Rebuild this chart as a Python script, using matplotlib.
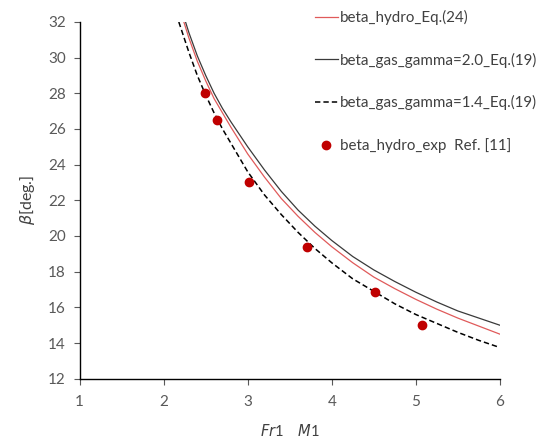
import matplotlib
matplotlib.use("Agg")
import matplotlib.pyplot as plt

plt.rcParams['font.family'] = ['Lato', 'DejaVu Sans']
plt.rcParams['mathtext.fontset'] = 'dejavusans'

# beta_hydro Eq.(24)
m_hydro = [2.24, 2.3, 2.4, 2.5, 2.6, 2.7, 2.8, 3.0, 3.2, 3.4, 3.6, 3.8, 4.0,
           4.25, 4.5, 4.75, 5.0, 5.25, 5.5, 5.75, 6.0]
beta_hydro = [32.0, 31.1, 29.8, 28.7, 27.7, 26.9, 26.1, 24.6, 23.3, 22.1, 21.1,
              20.2, 19.4, 18.5, 17.7, 17.05, 16.45, 15.9, 15.4, 14.95, 14.5]

# beta_gas gamma=2.0
m_g20 = [2.26, 2.3, 2.4, 2.5, 2.6, 2.7, 2.8, 3.0, 3.2, 3.4, 3.6, 3.8, 4.0,
         4.25, 4.5, 4.75, 5.0, 5.25, 5.5, 5.75, 6.0]
beta_g20 = [32.0, 31.4, 30.1, 29.0, 28.0, 27.15, 26.4, 25.0, 23.7, 22.5, 21.45,
            20.55, 19.75, 18.85, 18.1, 17.45, 16.85, 16.3, 15.8, 15.4, 15.0]

# beta_gas gamma=1.4
m_g14 = [2.18, 2.3, 2.4, 2.5, 2.6, 2.7, 2.8, 3.0, 3.2, 3.4, 3.6, 3.8, 4.0,
         4.25, 4.5, 4.75, 5.0, 5.25, 5.5, 5.75, 6.0]
beta_g14 = [32.0, 30.3, 29.0, 27.9, 26.9, 26.0, 25.2, 23.6, 22.3, 21.2, 20.2,
            19.3, 18.5, 17.6, 16.9, 16.2, 15.6, 15.1, 14.6, 14.15, 13.75]

# experiment Ref. [11]
m_exp = [2.49, 2.63, 3.02, 3.71, 4.52, 5.08]
beta_exp = [28.0, 26.5, 23.0, 19.4, 16.85, 15.0]

fig = plt.figure(figsize=(5.45, 4.48), dpi=100)
ax = fig.add_axes([0.1462, 0.1547, 0.9170 - 0.1462, 0.951 - 0.1547])

ax.plot(m_hydro, beta_hydro, color='#E05A5A', lw=0.9, label='beta_hydro_Eq.(24)')
ax.plot(m_g20, beta_g20, color='#3A3A3A', lw=0.9, label='beta_gas_gamma=2.0_Eq.(19)')
ax.plot(m_g14, beta_g14, color='black', lw=1.1, dashes=(3.5, 2),
        label='beta_gas_gamma=1.4_Eq.(19)')
ax.plot(m_exp, beta_exp, 'o', color='#C00000', ms=6, mec='#C00000',
        label='beta_hydro_exp  Ref. [11]')

ax.set_xlim(1, 6)
ax.set_ylim(12, 32)
ax.set_xticks(range(1, 7))
ax.set_yticks(range(12, 33, 2))

for s in ['top', 'right']:
    ax.spines[s].set_visible(False)
for s in ['left', 'bottom']:
    ax.spines[s].set_color('black')
    ax.spines[s].set_linewidth(1.0)

ax.tick_params(axis='both', direction='out', length=4, width=0.8,
               color='#595959', labelcolor='#595959', labelsize=11)
ax.tick_params(axis='y', pad=6)
ax.tick_params(axis='x', pad=8)

ax.set_ylabel(r'$\beta$[deg.]', fontsize=11.5, color='#404040', labelpad=8)
ax.set_xlabel(r'$Fr$1    $M$1', fontsize=10.5, color='#404040', labelpad=10)

leg = fig.legend(loc='upper left', bbox_to_anchor=(0.578, 0.978),
                 frameon=False, fontsize=10.9, labelspacing=1.83,
                 handlelength=1.5, handletextpad=0.15, borderpad=0,
                 borderaxespad=0)
for t in leg.get_texts():
    t.set_color('#404040')

fig.savefig('out.png', dpi=100)
